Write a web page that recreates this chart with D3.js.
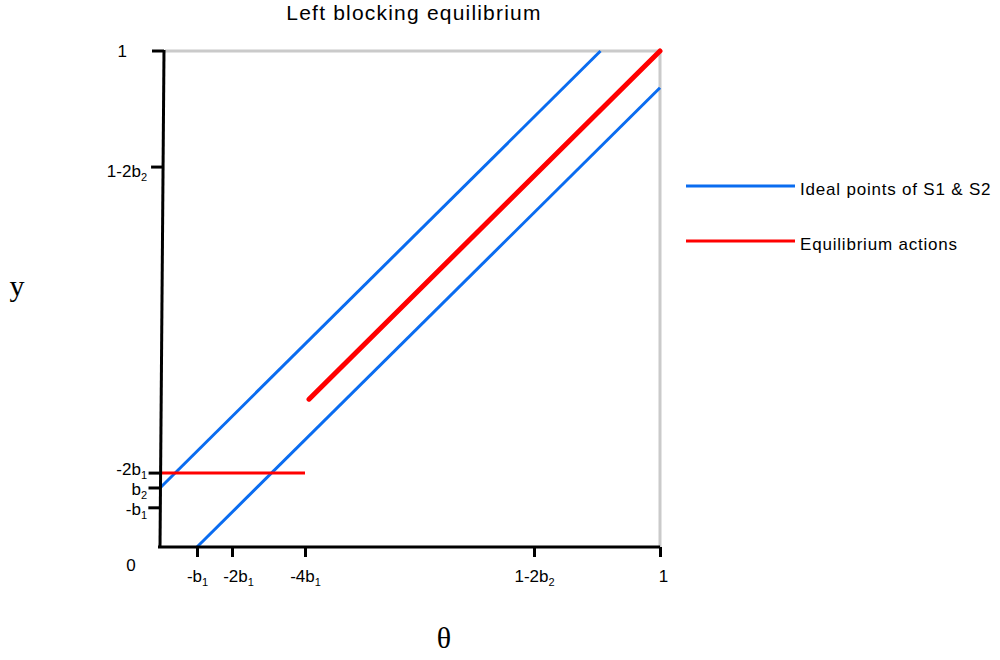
<!DOCTYPE html>
<html><head><meta charset="utf-8">
<script src="https://cdn.jsdelivr.net/npm/d3@7"></script>
<style>body{margin:0;background:#fff}svg{display:block}</style>
</head><body>
<svg id="c" width="1000" height="660"></svg>
<script>
// ---- data ----
const xTickValues = [0.074, 0.144, 0.29, 0.748, 1];
const xTickLabels = [["-b","1"], ["-2b","1"], ["-4b","1"], ["1-2b","2"], ["1",""]];
const yTickValues = [1, 0.766, 0.149, 0.119, 0.079];
const yTickLabels = [["1",""], ["1-2b","2"], ["-2b","1"], ["b","2"], ["-b","1"]];
const upperIdeal = [[0, 0.119], [0.881, 1]];
const lowerIdeal = [[0.074, 0], [1, 0.926]];
const eqDiagonal = [[0.298, 0.298], [1, 1]];
const eqFlat = [[0, 0.149], [0.29, 0.149]];
const legendItems = [
  {label: "Ideal points of S1 & S2", color: "#0a6cf0"},
  {label: "Equilibrium actions", color: "#ff0000"}
];

const FONT = "Liberation Sans, Arial, sans-serif";
const svg = d3.select("#c");
const x = d3.scaleLinear().domain([0, 1]).range([160, 660]);
const y = d3.scaleLinear().domain([0, 1]).range([547, 51]);
const line = d3.line().x(d => x(d[0])).y(d => y(d[1]));
const slant = 4; // left axis leans right by this many px at the top

// title
svg.append("text").attr("x", 414).attr("y", 20).attr("text-anchor", "middle")
  .attr("font-family", FONT).attr("font-size", 21).attr("letter-spacing", 1.2)
  .text("Left blocking equilibrium");

// gray frame (top & right)
svg.append("path").attr("d", `M${x(0)+slant+1},${y(1)}H${x(1)}V${y(0)}`)
  .attr("fill", "none").attr("stroke", "#cacaca").attr("stroke-width", 3);

// data lines
svg.append("path").datum(upperIdeal).attr("d", line).attr("fill", "none")
  .attr("stroke", legendItems[0].color).attr("stroke-width", 3);
svg.append("path").datum(lowerIdeal).attr("d", line).attr("fill", "none")
  .attr("stroke", legendItems[0].color).attr("stroke-width", 3);
svg.append("path").datum(eqDiagonal).attr("d", line).attr("fill", "none")
  .attr("stroke", legendItems[1].color).attr("stroke-width", 5).attr("stroke-linecap", "round");
svg.append("path").datum(eqFlat).attr("d", line).attr("fill", "none")
  .attr("stroke", legendItems[1].color).attr("stroke-width", 3);

function subLabels(sel, labels) {
  sel.selectAll(".tick text").each(function(d, i) {
    const t = d3.select(this);
    t.text(null);
    t.append("tspan").text(labels[i][0]);
    if (labels[i][1]) t.append("tspan").attr("font-size", 11).attr("dy", 4).text(labels[i][1]);
  });
}

// x axis
const xDx = [0, 6, 0, 0, 3];
const gx = svg.append("g").attr("transform", `translate(0,${y(0)})`)
  .call(d3.axisBottom(x).tickValues(xTickValues).tickSize(10).tickSizeOuter(0).tickFormat(""));
gx.select(".domain").attr("stroke", "#000").attr("stroke-width", 3).attr("d", `M${x(0)-2},0H${x(1)}`);
gx.selectAll(".tick line").attr("stroke", "#000").attr("stroke-width", 3);
gx.selectAll(".tick text").attr("font-family", FONT).attr("font-size", 17).attr("fill", "#000")
  .attr("y", 35).attr("dy", 0).attr("dx", (d, i) => xDx[i]);
subLabels(gx, xTickLabels);

// y axis
const yDy = [6, 10, 2, 7, 7];
const gy = svg.append("g").attr("transform", `translate(${x(0)},0)`)
  .call(d3.axisLeft(y).tickValues(yTickValues).tickSize(12).tickSizeOuter(0).tickFormat(""));
gy.selectAll(".tick").attr("transform", d => `translate(${slant * d},${y(d)})`);
gy.select(".domain").attr("stroke", "#000").attr("stroke-width", 3).attr("d", `M${slant},${y(1)-1}L0,${y(0)+1}`);
gy.selectAll(".tick line").attr("stroke", "#000").attr("stroke-width", 3);
gy.selectAll(".tick text").attr("font-family", FONT).attr("font-size", 17).attr("fill", "#000")
  .attr("x", (d, i) => (i === 0 ? -33 : -13) - slant * d).attr("y", (d, i) => yDy[i]).attr("dy", 0);
subLabels(gy, yTickLabels);

// origin label
svg.append("text").attr("x", 131).attr("y", 571).attr("text-anchor", "middle")
  .attr("font-family", FONT).attr("font-size", 17).text("0");

// axis titles
svg.append("text").attr("x", 17).attr("y", 296).attr("text-anchor", "middle")
  .attr("font-family", "Liberation Serif, Times New Roman, serif").attr("font-size", 30).text("y");
svg.append("text").attr("x", 444).attr("y", 648).attr("text-anchor", "middle")
  .attr("font-family", "Liberation Serif, Times New Roman, serif").attr("font-size", 30).text("θ");

// legend
const lg = svg.append("g").selectAll("g").data(legendItems).join("g")
  .attr("transform", (d, i) => `translate(686,${186 + i * 55})`);
lg.append("line").attr("x1", 0).attr("x2", 109).attr("y1", 0).attr("y2", 0)
  .attr("stroke", d => d.color).attr("stroke-width", 3);
lg.append("text").attr("x", 114).attr("y", 9).attr("font-family", FONT)
  .attr("font-size", 17).attr("letter-spacing", 0.8).text(d => d.label);
</script>
</body></html>
